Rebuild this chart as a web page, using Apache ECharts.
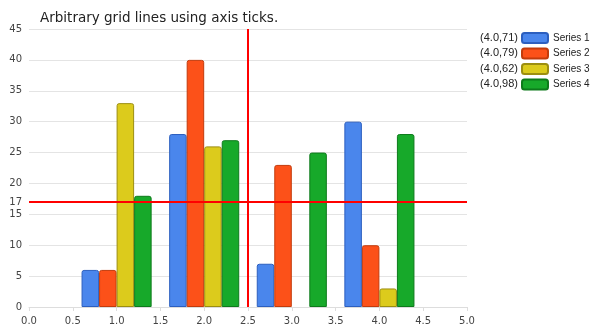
<!DOCTYPE html>
<html>
<head>
<meta charset="utf-8">
<script src="https://cdn.jsdelivr.net/npm/echarts@6/dist/echarts.min.js"></script>
<style>html,body{margin:0;padding:0;background:#fff}#c{width:592px;height:334px}</style>
</head>
<body>
<div id="c"></div>
<script>
// Chart data
var titleText = 'Arbitrary grid lines using axis ticks.';
var seriesNames = ['Series 1', 'Series 2', 'Series 3', 'Series 4'];
var legendNotes = ['(4.0,71)', '(4.0,79)', '(4.0,62)', '(4.0,98)'];
var xPositions = [1, 2, 3, 4];
var series1 = [6, 28, 7, 30];
var series2 = [6, 40, 23, 10];
var series3 = [33, 26, null, 3];
var series4 = [18, 27, 25, 28];
var yTicks = [0, 5, 10, 15, 17, 20, 25, 30, 35, 40, 45];
var xTicks = [0, 0.5, 1, 1.5, 2, 2.5, 3, 3.5, 4, 4.5, 5];
var markX = 2.5;
var markY = 17;

var fills = ['#4a86ec', '#fc5119', '#dccb1c', '#17a92a'];
var borders = ['#2c5fbf', '#c23b0c', '#9c8e10', '#0d7a1b'];
var labelFont = 'DejaVu Sans';

function pairs(vals) {
  var out = [];
  for (var i = 0; i < vals.length; i++) {
    if (vals[i] !== null) out.push([xPositions[i], vals[i]]);
  }
  return out;
}

var allValues = [series1, series2, series3, series4];
var series = allValues.map(function (vals, i) {
  return {
    name: seriesNames[i],
    type: 'bar',
    data: pairs(vals),
    barGap: '0%',
    barCategoryGap: '20%',
    itemStyle: { color: fills[i], borderColor: borders[i], borderWidth: 1, borderRadius: [2, 2, 0, 0] },
    emphasis: { disabled: true }
  };
});

// Reference lines at x = 2.5 and y = 17
series.push({
  name: 'marks',
  type: 'line',
  data: [],
  markLine: {
    silent: true,
    symbol: 'none',
    label: { show: false },
    lineStyle: { color: '#ff0000', width: 2, type: 'solid' },
    data: [{ xAxis: markX }, { yAxis: markY }]
  }
});

var chart = echarts.init(document.getElementById('c'), null, { renderer: 'canvas' });
chart.setOption({
  animation: false,
  backgroundColor: '#ffffff',
  title: {
    text: titleText,
    left: 35, top: 6,
    textStyle: { fontFamily: 'DejaVu Sans', fontSize: 13.5, fontWeight: 'normal', color: '#222' }
  },
  legend: {
    data: seriesNames,
    orient: 'vertical',
    left: 521, top: 32,
    padding: 0,
    itemWidth: 26, itemHeight: 10, itemGap: 3.5,
    icon: 'roundRect',
    textStyle: { fontFamily: 'Liberation Sans', fontSize: 10, color: '#222', lineHeight: 12 },
    selectedMode: false
  },
  graphic: legendNotes.map(function (t, i) {
    return {
      type: 'text', right: 74, top: 32 + i * 15.5,
      style: { text: t, fontFamily: 'Liberation Sans', fontSize: 11, fill: '#222' }
    };
  }),
  grid: { left: 29, right: 125, top: 29, bottom: 27 },
  xAxis: {
    type: 'value', min: 0, max: 5, interval: 0.5,
    axisLine: { show: true, lineStyle: { color: '#dddddd' } },
    axisTick: { show: true, length: 4, lineStyle: { color: '#dddddd' } },
    splitLine: { show: false },
    axisLabel: {
      color: '#444', fontFamily: labelFont, fontSize: 10, margin: 9,
      formatter: function (v) { return v.toFixed(1); },
      customValues: xTicks
    }
  },
  yAxis: {
    type: 'value', min: 0, max: 45, interval: 5,
    axisLine: { show: false },
    axisTick: { show: false },
    splitLine: { show: true, lineStyle: { color: '#e4e4e4' } },
    axisLabel: { color: '#444', fontFamily: labelFont, fontSize: 10, margin: 7, customValues: yTicks }
  },
  series: series
});
</script>
</body>
</html>
